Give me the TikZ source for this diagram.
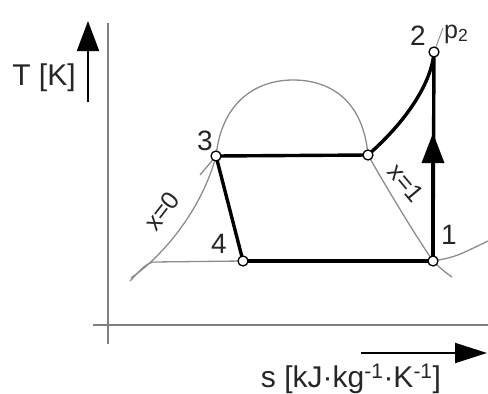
\documentclass[tikz,border=0pt]{standalone}
\usepackage{fontspec}
\setmainfont{Liberation Sans}
\usetikzlibrary{arrows.meta}
\begin{document}
\begin{tikzpicture}[x=1pt,y=-1pt,
  axisline/.style={draw=black!50,line width=1.4pt},
  thinline/.style={draw=black!45,line width=1.3pt},
  proc/.style={draw=black,line width=3.4pt},
  statept/.style={circle,draw=black,fill=white,line width=1.3pt,inner sep=0pt,minimum size=10pt},
  lbl/.style={text=black!85,font=\fontsize{28}{32}\selectfont,inner sep=0pt},
  axlbl/.style={text=black!85,font=\fontsize{30}{34}\selectfont,inner sep=0pt},
  qlbl/.style={text=black!85,font=\fontsize{25}{30}\selectfont,inner sep=0pt},
  bigtip/.style={-{Triangle[length=30pt,width=22pt]}}
]
\useasboundingbox (0,0) rectangle (488,394);
% axes
\coordinate (vt) at (108,23); \coordinate (vb) at (108,344);
\coordinate (hl) at (93,325); \coordinate (hr) at (488,325);
\draw[axisline] (vt) -- (vb);
\draw[axisline] (hl) -- (hr);
% axis arrows
\coordinate (ta) at (88,102); \coordinate (tb) at (88,21);
\draw[line width=2pt,bigtip] (ta) -- (tb);
\coordinate (sa) at (361,353); \coordinate (sb) at (487,353);
\draw[line width=2pt,-{Triangle[length=32pt,width=20pt]}] (sa) -- (sb);
\node[axlbl] (tlab) at (44,78) {T [K]};
\node[axlbl] (slab) at (351,379) {s [kJ·kg\textsuperscript{-1}·K\textsuperscript{-1}]};
% state point coordinates
\coordinate (c1) at (433,261);
\coordinate (c2) at (434,52);
\coordinate (c3) at (216,156);
\coordinate (c4) at (243,261);
\coordinate (c5) at (368,155);
\coordinate (arr) at (433,133);
% saturation dome
\coordinate (sl) at (131,278);
\coordinate (top) at (293,80);
\coordinate (sr) at (452,277);
\draw[thinline] (sl) .. controls (168,252) and (203,205) .. (c3)
  .. controls (222,100) and (258,80) .. (top)
  .. controls (330,80) and (363,100) .. (c5)
  .. controls (385,185) and (415,235) .. (c1)
  .. controls (440,268) and (446,273) .. (sr);
% isobars (thin)
\coordinate (iso3) at (200,175);
\coordinate (iso4a) at (153,262);
\coordinate (iso4b) at (130,281);
\coordinate (iso1) at (488,241);
\coordinate (iso2) at (443,28);
\draw[thinline] (c3) -- (iso3);
\draw[thinline] (c4) -- (iso4a) .. controls (145,265) .. (iso4b);
\draw[thinline] (c1) .. controls (455,257) .. (iso1);
\draw[thinline,line width=1pt] (c2) -- (iso2);
% process
\draw[proc] (c4) -- (c1);
\draw[proc] (c1) -- (c2);
\draw[proc,bigtip] (c1) -- (arr);
\draw[proc] (c5) .. controls (410,118) and (432,80) .. (c2);
\draw[proc] (c3) -- (c5);
\draw[proc] (c3) -- (c4);
\node[statept] (p1) at (c1) {};
\node[statept] (p2) at (c2) {};
\node[statept] (p3) at (c3) {};
\node[statept] (p4) at (c4) {};
\node[statept] (p5) at (c5) {};
% labels
\node[lbl] (l1) at (449,235) {1};
\node[lbl] (l2) at (418,36) {2};
\node[lbl] (l3) at (205,141) {3};
\node[lbl] (l4) at (219,244) {4};
\node[qlbl,anchor=west] (lp) at (444,34) {p\textsubscript{2}};
\node[qlbl,rotate=52] (lx0) at (162,211) {x=0};
\node[qlbl,rotate=-50] (lx1) at (406,183) {x=1};
\end{tikzpicture}
\end{document}
